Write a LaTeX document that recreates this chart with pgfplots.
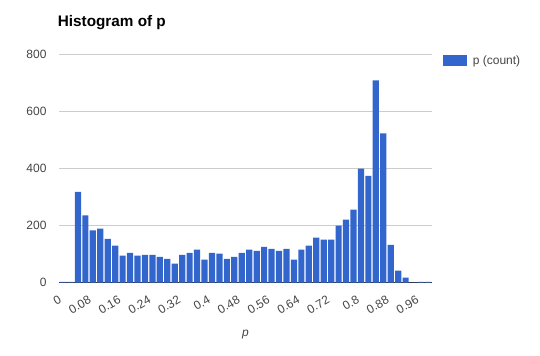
\documentclass[border=0pt]{standalone}
\usepackage{fontspec}
\setmainfont{Liberation Sans}
\usepackage{pgfplots}
\pgfplotsset{compat=1.18}
\definecolor{gblue}{HTML}{3366CC}
\definecolor{ggrid}{HTML}{CCCCCC}
\definecolor{gtext}{HTML}{444444}
\pgfplotstableread{
x y
0.01 3
0.03 3
0.05 319
0.07 236
0.09 184
0.11 190
0.13 154
0.15 130
0.17 95
0.19 105
0.21 95
0.23 98
0.25 98
0.27 91
0.29 84
0.31 67
0.33 98
0.35 105
0.37 116
0.39 81
0.41 105
0.43 102
0.45 84
0.47 91
0.49 105
0.51 116
0.53 112
0.55 126
0.57 119
0.59 112
0.61 119
0.63 81
0.65 116
0.67 130
0.69 158
0.71 151
0.73 151
0.75 200
0.77 221
0.79 256
0.81 400
0.83 375
0.85 710
0.87 524
0.89 133
0.91 42
0.93 18
0.95 0
0.97 3
0.99 3
}\datatable
\begin{document}
\begin{tikzpicture}
\useasboundingbox (-59.3bp,-73.3bp) rectangle (480.7bp,282.7bp);
\begin{axis}[
  scale only axis, width=372.4bp, height=228bp,
  xmin=0, xmax=1, ymin=0, ymax=800,
  axis line style={draw=none},
  major tick length=0pt,
  ytick={0,200,400,600,800},
  yticklabels={0,200,400,600,800},
  ymajorgrids, grid style={ggrid, line width=0.8bp},
  extra y ticks={0}, extra y tick labels={},
  extra y tick style={grid style={draw=black!80, line width=1.1bp}},
  xtick={0,0.08,0.16,0.24,0.32,0.4,0.48,0.56,0.64,0.72,0.8,0.88,0.96},
  xticklabels={0,0.08,0.16,0.24,0.32,0.4,0.48,0.56,0.64,0.72,0.8,0.88,0.96},
  xticklabel style={font=\fontsize{12bp}{14bp}\selectfont, text=gtext, xshift=1bp, yshift=-16bp, rotate=30, anchor=east, inner sep=0pt},
  yticklabel style={font=\fontsize{12bp}{14bp}\selectfont, text=gtext, anchor=east, inner sep=0pt, xshift=-12.6bp},
  title={Histogram of p},
  title style={at={(0,1)}, anchor=base west, inner sep=0pt, yshift=22bp, xshift=-1.6bp, font=\fontsize{15.3bp}{18bp}\selectfont\bfseries},
  xlabel={\itshape p},
  xlabel style={at={(axis description cs:0.5,0)}, anchor=base, inner sep=0pt, yshift=-54bp, font=\fontsize{12bp}{14bp}\selectfont, text=gtext},
  legend style={at={(1.031,0.975)}, anchor=west, draw=none, fill=none, inner sep=0pt, font=\fontsize{12bp}{14bp}\selectfont, text=gtext, nodes={inner sep=0pt}},
  legend cell align=left,
  legend image code/.code={\fill[gblue] (0bp,-5.3bp) rectangle (24bp,5.3bp); \path (29.4bp,0bp);},
]
\addplot[ybar, bar width=6.2bp, bar shift=0pt, fill=gblue, draw=none] table[x=x,y=y] {\datatable};
\addlegendentry{p (count)}
\end{axis}
\end{tikzpicture}
\end{document}
